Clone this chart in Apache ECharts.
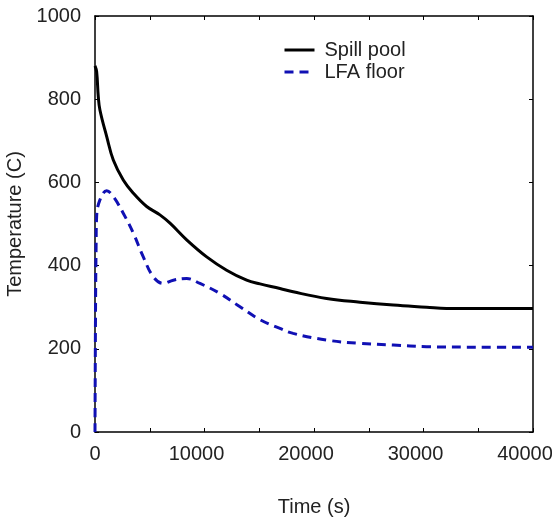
<!DOCTYPE html>
<html>
<head>
<meta charset="utf-8">
<script src="https://cdn.jsdelivr.net/npm/echarts@6/dist/echarts.min.js"></script>
<style>html,body{margin:0;padding:0;background:#fff}#c{width:552px;height:519px}</style>
</head>
<body>
<div id="c"></div>
<script>
var spillTime = [0, 150, 300, 450, 1070, 1670, 2580, 3500, 4720, 5930, 6850, 8370, 10200, 12020, 13850, 15070, 16890, 18100, 21150, 24200, 27240, 30280, 32100, 36000, 40000];
var spillTemp = [880, 866, 806, 774, 710, 654, 606, 574, 542, 522, 502, 462, 421, 389, 365, 356, 345, 337, 321, 312, 305, 300, 297, 297, 297];
var floorTime = [0, 50, 100, 150, 450, 1070, 1670, 2580, 3500, 4410, 5330, 6240, 7150, 8370, 9590, 11410, 13240, 15070, 16890, 18100, 21150, 24200, 27240, 30280, 35000, 40000];
var floorTemp = [0, 300, 445, 518, 558, 580, 566, 526, 478, 421, 373, 357, 365, 369, 357, 333, 301, 270, 249, 237, 221, 213, 209, 205, 204, 204];
var seriesNames = ['Spill pool', 'LFA floor'];
var xTitle = 'Time (s)';
var yTitle = 'Temperature (C)';

function pairs(xs, ys) { return xs.map(function (x, i) { return [x, ys[i]]; }); }

var font = 'Liberation Sans, Arial, sans-serif';
var txt = '#222';
var fs = 20;
var chart = echarts.init(document.getElementById('c'), null, {renderer: 'canvas'});
chart.setOption({
  animation: false,
  backgroundColor: '#fff',
  grid: {left: 95, right: 19, top: 16, bottom: 87, containLabel: false, outerBoundsMode: 'none'},
  legend: {
    orient: 'vertical', left: 278, top: 35, itemGap: 2,
    itemWidth: 30, itemHeight: 20,
    itemStyle: {opacity: 0},
    lineStyle: {width: 3},
    textStyle: {fontSize: fs, fontFamily: font, color: txt, padding: [0, 0, 0, 5]},
    data: seriesNames
  },
  xAxis: [{
    type: 'value', min: 0, max: 40000, interval: 5000, position: 'bottom',
    name: xTitle, nameLocation: 'middle', nameGap: 65,
    nameTextStyle: {fontSize: fs, fontFamily: font, color: txt},
    axisLine: {show: true, onZero: false, lineStyle: {color: '#000', width: 1.5}},
    axisTick: {show: true, inside: true, length: 4, lineStyle: {color: '#000'}},
    axisLabel: {fontSize: fs, fontFamily: font, color: txt, margin: 12,
      formatter: function (v) {
        if (v % 10000 !== 0) return '';
        return v === 0 ? '0' : '{w|' + v + '}';
      },
      rich: {w: {fontSize: fs, fontFamily: font, color: txt, padding: [0, 16, 0, 0]}}},
    splitLine: {show: false}
  }, {
    type: 'value', min: 0, max: 40000, interval: 5000, position: 'top',
    axisLine: {show: true, onZero: false, lineStyle: {color: '#000', width: 1.5}},
    axisTick: {show: true, inside: true, length: 4, lineStyle: {color: '#000'}},
    axisLabel: {show: false}, splitLine: {show: false}
  }],
  yAxis: [{
    type: 'value', min: 0, max: 1000, interval: 200, position: 'left',
    name: yTitle, nameLocation: 'middle', nameGap: 62, nameRotate: 90,
    nameTextStyle: {fontSize: fs, fontFamily: font, color: txt},
    axisLine: {show: true, onZero: false, lineStyle: {color: '#000', width: 1.5}},
    axisTick: {show: true, inside: true, length: 4, lineStyle: {color: '#000'}},
    axisLabel: {fontSize: fs, fontFamily: font, color: txt, margin: 14,
      formatter: function (v) { return String(v); }},
    splitLine: {show: false}
  }, {
    type: 'value', min: 0, max: 1000, interval: 200, position: 'right',
    axisLine: {show: true, onZero: false, lineStyle: {color: '#000', width: 1.5}},
    axisTick: {show: true, inside: true, length: 4, lineStyle: {color: '#000'}},
    axisLabel: {show: false}, splitLine: {show: false}
  }],
  series: [{
    name: seriesNames[0], type: 'line', xAxisIndex: 0, yAxisIndex: 0,
    data: pairs(spillTime, spillTemp), showSymbol: false, symbol: 'none',
    smooth: 0.4,
    itemStyle: {color: '#000'},
    lineStyle: {color: '#000', width: 3}
  }, {
    name: seriesNames[1], type: 'line', xAxisIndex: 0, yAxisIndex: 0,
    data: pairs(floorTime, floorTemp), showSymbol: false, symbol: 'none',
    smooth: 0.4,
    itemStyle: {color: '#1010b4'},
    lineStyle: {color: '#1010b4', width: 3, type: [9, 6]}
  }]
});
</script>
</body>
</html>
